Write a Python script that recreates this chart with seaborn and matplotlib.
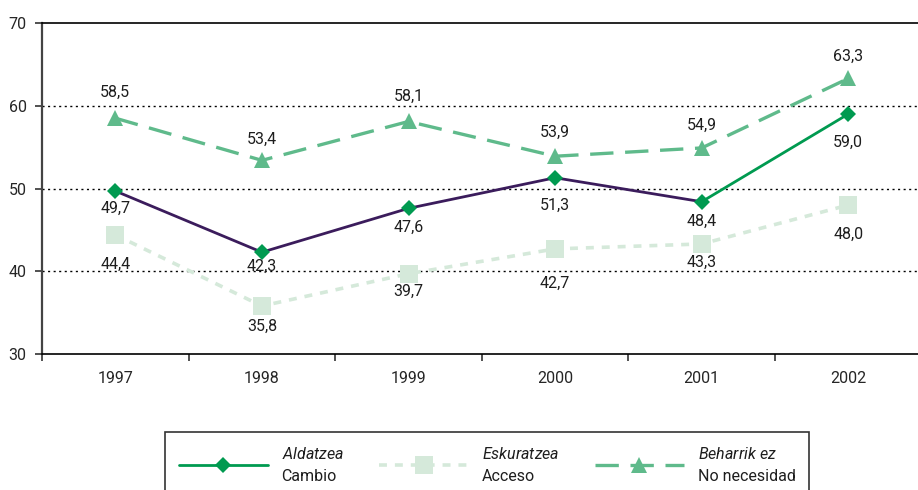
import numpy as np
import pandas as pd
import matplotlib
matplotlib.use("Agg")
import matplotlib.pyplot as plt
from matplotlib.lines import Line2D
import seaborn as sns

years = ["1997", "1998", "1999", "2000", "2001", "2002"]
aldatzea = [49.7, 42.3, 47.6, 51.3, 48.4, 59.0]
eskuratzea = [44.4, 35.8, 39.7, 42.7, 43.3, 48.0]
beharrik_ez = [58.5, 53.4, 58.1, 53.9, 54.9, 63.3]

names_eu = ["Aldatzea", "Eskuratzea", "Beharrik ez"]
names_es = ["Cambio", "Acceso", "No necesidad"]

# vertical label offsets in pixels (positive = above the point)
off_ald = [-17, -14, -19, -28, -20, -28]
off_esk = [-29, -20, -18, -34, -18, -29]
off_beh = [26, 21, 25, 24, 23, 22]

C_PURPLE = "#3b1c5c"
C_GREEN = "#009a50"
C_LIGHT = "#d5e9da"
C_MID = "#5fba8b"

sns.set_theme(style="white")
FONT = "Roboto"
plt.rcParams["font.family"] = [FONT, "DejaVu Sans"]
plt.rcParams["mathtext.fontset"] = "custom"
plt.rcParams["mathtext.it"] = f"{FONT}:italic"
plt.rcParams["mathtext.rm"] = FONT
plt.rcParams["text.color"] = "#1e1e1e"
FS = 11.5

pos = np.arange(len(years))
df = pd.DataFrame({"pos": pos, "year": years, "ald": aldatzea,
                   "esk": eskuratzea, "beh": beharrik_ez})

fig = plt.figure(figsize=(9.18, 4.90), dpi=100)
ax = fig.add_axes([42 / 918, 136 / 490, 879.6 / 918, 331 / 490])

# grid lines at the inner y levels
for yv in (40, 50, 60):
    ax.axhline(yv, color="black", lw=1.0, ls=(0, (1.5, 2.5)), zorder=1)

# Eskuratzea: pale squares on a dotted line
sns.lineplot(data=df, x="pos", y="esk", ax=ax, color=C_LIGHT, lw=2.6,
             linestyle=(0, (2.2, 2.2)), marker="s", markersize=13,
             markeredgewidth=0, markerfacecolor=C_LIGHT, zorder=2)

# Beharrik ez: triangles on a dashed line
sns.lineplot(data=df, x="pos", y="beh", ax=ax, color=C_MID, lw=2.4,
             linestyle=(0, (7, 3.5)), marker="^", markersize=11,
             markeredgewidth=0, markerfacecolor=C_MID, zorder=3)

# Aldatzea: purple until 2001, green for the last step
sns.lineplot(data=df.iloc[:5], x="pos", y="ald", ax=ax, color=C_PURPLE,
             lw=2.0, zorder=4)
sns.lineplot(data=df.iloc[4:], x="pos", y="ald", ax=ax, color=C_GREEN,
             lw=2.0, zorder=4)
ax.plot(df["pos"], df["ald"], ls="none", marker="D", markersize=8,
        markeredgewidth=0, color=C_GREEN, zorder=5)


def fmt(v):
    return f"{v:.1f}".replace(".", ",")


def label_series(values, offsets):
    for x, v, o in zip(pos, values, offsets):
        ax.annotate(fmt(v), (x, v), xytext=(0, o * 0.72),
                    textcoords="offset points", ha="center", va="center",
                    fontsize=FS)


label_series(beharrik_ez, off_beh)
label_series(aldatzea, off_ald)
label_series(eskuratzea, off_esk)

ax.set_xlim(-0.5, 5.5)
ax.set_ylim(30, 70)
ax.set_yticks([30, 40, 50, 60, 70])
ax.set_xticks(np.arange(-0.5, 6.0, 1.0))
ax.set_xticklabels([])
ax.set_xticks(pos, minor=True)
ax.set_xticklabels(years, minor=True)
ax.tick_params(axis="x", which="major", direction="out", length=5,
               width=1.2, color="#333333", bottom=True)
ax.tick_params(axis="x", which="minor", length=0, pad=12, labelsize=FS)
ax.tick_params(axis="y", direction="out", length=5, width=1.2,
               color="#333333", left=True, pad=6, labelsize=FS)
ax.set_xlabel("")
ax.set_ylabel("")

for side in ("top", "bottom", "right"):
    ax.spines[side].set_color("black")
    ax.spines[side].set_linewidth(1.2)
ax.spines["left"].set_color("#444444")
ax.spines["left"].set_linewidth(1.6)

handles = [
    Line2D([], [], color=C_GREEN, lw=2.0, marker="D", markersize=8,
           markeredgewidth=0),
    Line2D([], [], color=C_LIGHT, lw=2.6, ls=(0, (2.2, 2.2)), marker="s",
           markersize=13, markeredgewidth=0),
    Line2D([], [], color=C_MID, lw=2.4, ls=(0, (7, 3.5)), marker="^",
           markersize=11, markeredgewidth=0),
]
labels = [r"$\mathit{" + eu.replace(" ", r"\ ") + "}$\n" + es
          for eu, es in zip(names_eu, names_es)]

leg = fig.legend(handles, labels, loc="upper left",
                 bbox_to_anchor=(165 / 918, 1 - 432 / 490), ncol=3,
                 frameon=True, fancybox=False, edgecolor="black",
                 handlelength=5.6, handletextpad=0.85, columnspacing=2.2,
                 borderpad=0.85, borderaxespad=0, fontsize=FS, numpoints=1)
leg.get_frame().set_linewidth(1.2)
for t in leg.get_texts():
    t.set_linespacing(1.6)

fig.savefig("out.png", dpi=100)
